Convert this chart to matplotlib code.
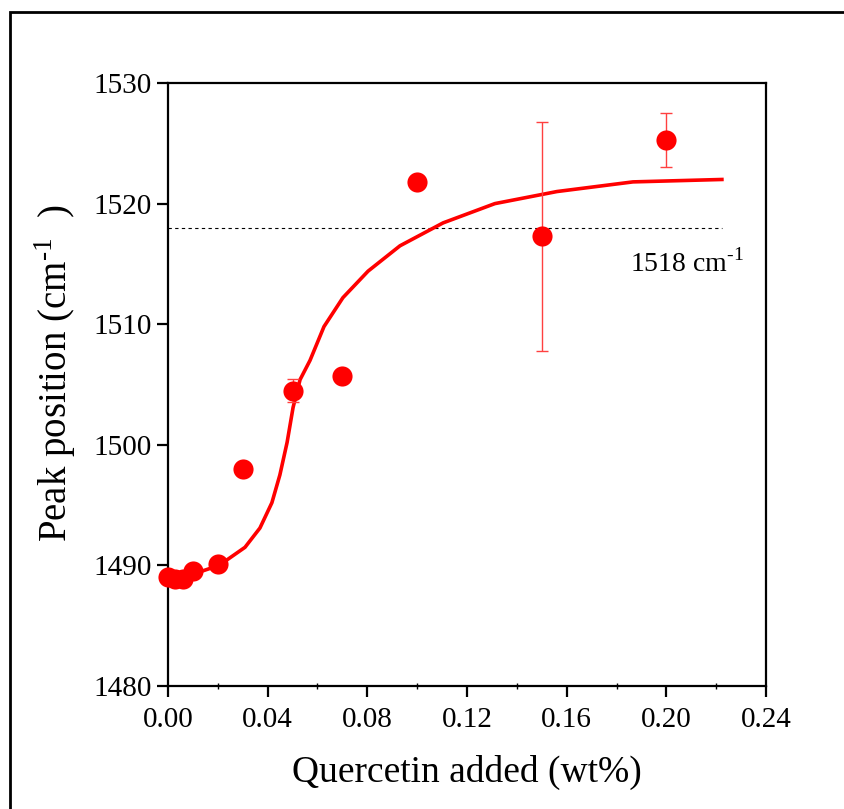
import matplotlib
matplotlib.use("Agg")
import matplotlib.pyplot as plt
from matplotlib.patches import Rectangle
from matplotlib.ticker import MultipleLocator

plt.rcParams['font.family'] = ['Liberation Serif', 'DejaVu Serif']
plt.rcParams['mathtext.fontset'] = 'custom'
plt.rcParams['mathtext.rm'] = 'Liberation Serif'

# measured data
conc = [0.0, 0.003, 0.006, 0.01, 0.02, 0.03, 0.05, 0.07, 0.10, 0.15, 0.20]
peak = [1489.0, 1488.9, 1488.9, 1489.5, 1490.1, 1498.0, 1504.5, 1505.7, 1521.8, 1517.3, 1525.3]
err = [0, 0, 0, 0, 0, 0, 0.95, 0, 0, 9.5, 2.24]

# fitted curve
fit_x = [0.0, 0.0104, 0.0205, 0.0309, 0.0369, 0.0417, 0.0449, 0.0478, 0.0502,
         0.0530, 0.0570, 0.0626, 0.0702, 0.0803, 0.0931, 0.1104, 0.1312,
         0.1561, 0.1866, 0.2223]
fit_y = [1489.0, 1489.3, 1490.0, 1491.5, 1493.1, 1495.2, 1497.5, 1500.2, 1503.1,
         1505.4, 1507.0, 1509.8, 1512.2, 1514.4, 1516.5, 1518.4, 1520.0,
         1521.0, 1521.8, 1522.0]

ref_level = 1518
ref_xrange = [0.0, 0.2223]

W, H = 845, 809
fig = plt.figure(figsize=(W / 100, H / 100), dpi=100)
ax = fig.add_axes([168 / W, 1 - 686 / H, (766 - 168) / W, (686 - 83) / H])

red = '#ff0000'
ax.plot(fit_x, fit_y, color=red, lw=2.6, zorder=2)
ax.plot(ref_xrange, [ref_level, ref_level], color='black', lw=0.8,
        dashes=(3, 3), zorder=1)

eb_x = [c for c, e in zip(conc, err) if e > 0]
eb_y = [p for p, e in zip(peak, err) if e > 0]
eb_e = [e for e in err if e > 0]
ax.errorbar(eb_x, eb_y, yerr=eb_e, fmt='none', ecolor='#ff4040', elinewidth=1.0,
            capsize=4, capthick=1.0, zorder=3)
ax.plot(conc, peak, 'o', color=red, markersize=14.5, markeredgewidth=0, zorder=4,
        clip_on=False)

ax.text(0.2310, 1516.2, r'1518 cm$^{\text{-1}}$', fontsize=20,
        ha='right', va='top')

ax.set_xlim(0, 0.24)
ax.set_ylim(1480, 1530)
ax.xaxis.set_minor_locator(MultipleLocator(0.02))
ax.yaxis.set_major_locator(MultipleLocator(10))
ax.set_xticks([0, 0.04, 0.08, 0.12, 0.16, 0.20, 0.24])
ax.set_xticklabels(['0.00', '0.04', '0.08', '0.12', '0.16', '0.20', '0.24'])

for s in ax.spines.values():
    s.set_linewidth(1.6)
ax.tick_params(which='major', direction='out', length=8, width=1.6,
               labelsize=21)
ax.tick_params(axis='x', which='major', pad=7)
ax.tick_params(axis='y', which='major', pad=4)
ax.tick_params(which='minor', axis='x', direction='inout', length=4, width=1.0)

ax.set_xlabel('Quercetin added (wt%)', fontsize=27, labelpad=16)
ax.set_ylabel(r'Peak position (cm$^{\text{-1}}$  )', fontsize=28, labelpad=11)
ax.yaxis.label.set_y(0.518)

# figure frame (right/bottom edges fall outside the image)
fig.patches.append(Rectangle((10 / W, -0.05), 1.1, 1 - 12 / H + 0.05,
                             transform=fig.transFigure, fill=False,
                             edgecolor='black', lw=2.0))

fig.savefig('out.png', dpi=100)
